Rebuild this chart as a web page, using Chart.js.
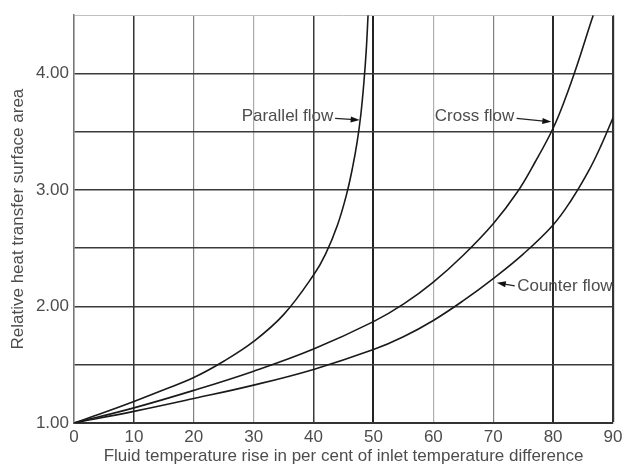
<!DOCTYPE html>
<html>
<head>
<meta charset="utf-8">
<script src="https://cdn.jsdelivr.net/npm/chart.js@4"></script>
<style>
  html, body { margin: 0; padding: 0; background: #fff; }
  #wrap { width: 630px; height: 469px; }
</style>
</head>
<body>
<div id="wrap"><canvas id="heatChart" width="630" height="469"></canvas></div>
<script>
// ================= data =================
const parallelX = [0, 5, 10, 15, 20, 25, 30, 35, 40, 42, 44, 45.5, 46.5, 47.3, 47.9, 48.4, 48.8, 49.1];
const parallelY = [1.00, 1.09, 1.185, 1.285, 1.39, 1.53, 1.70, 1.93, 2.27, 2.45, 2.70, 2.96, 3.19, 3.42, 3.65, 3.92, 4.20, 4.50];

const crossX = [0, 10, 20, 30, 40, 50, 55, 60, 65, 70, 74, 77, 80, 82, 84, 86, 86.7];
const crossY = [1.00, 1.13, 1.28, 1.445, 1.635, 1.87, 2.02, 2.21, 2.44, 2.71, 2.98, 3.24, 3.53, 3.78, 4.07, 4.39, 4.50];

const counterX = [0, 10, 20, 30, 40, 50, 55, 60, 65, 70, 75, 80, 83, 86, 88, 90];
const counterY = [1.00, 1.10, 1.21, 1.325, 1.46, 1.63, 1.74, 1.88, 2.05, 2.24, 2.45, 2.70, 2.91, 3.17, 3.38, 3.62];

const xTicks = [0, 10, 20, 30, 40, 50, 60, 70, 80, 90];
const yLabelled = [1, 2, 3, 4];

const xTitle = "Fluid temperature rise in per cent of inlet temperature difference";
const yTitle = "Relative heat transfer surface area";

// curve labels with arrows (data units)
const notes = [
  { text: "Parallel flow", x: 43.3, y: 3.63, align: "right", from: [43.6, 3.615], to: [47.7, 3.60] },
  { text: "Cross flow", x: 73.5, y: 3.635, align: "right", from: [73.9, 3.615], to: [79.7, 3.585] },
  { text: "Counter flow", x: 74.0, y: 2.17, align: "left", from: [73.6, 2.176], to: [70.6, 2.204] },
];

// ================= helpers =================
const FONT = "'Liberation Sans', Arial, Helvetica, sans-serif";
const TEXT = "#4d4d4d";

function toPoints(xs, ys) {
  return xs.map((x, i) => ({ x: x, y: ys[i] }));
}

// the scanned grid has uneven line weights
const vGridColor = { 10: "#333", 20: "#808080", 30: "#aaa", 40: "#3a3a3a", 50: "#222", 60: "#b0b0b0", 70: "#808080", 80: "#2a2a2a", 90: "#333" };
const vGridWidth = { 10: 1.5, 20: 1.2, 30: 1.2, 40: 1.5, 50: 2, 60: 1.2, 70: 1.2, 80: 2, 90: 2.2 };

// draws the "xxx flow ->" labels
const notesPlugin = {
  id: "notes",
  afterDatasetsDraw(chart) {
    const ctx = chart.ctx;
    const xs = chart.scales.x;
    const ys = chart.scales.y;
    ctx.save();
    ctx.font = "17px " + FONT;
    ctx.textBaseline = "middle";
    notes.forEach((n) => {
      ctx.fillStyle = TEXT;
      ctx.textAlign = n.align;
      ctx.fillText(n.text, xs.getPixelForValue(n.x), ys.getPixelForValue(n.y));
      const x1 = xs.getPixelForValue(n.from[0]);
      const y1 = ys.getPixelForValue(n.from[1]);
      const x2 = xs.getPixelForValue(n.to[0]);
      const y2 = ys.getPixelForValue(n.to[1]);
      const ang = Math.atan2(y2 - y1, x2 - x1);
      ctx.strokeStyle = "#222";
      ctx.lineWidth = 1.3;
      ctx.beginPath();
      ctx.moveTo(x1, y1);
      ctx.lineTo(x2 - 5 * Math.cos(ang), y2 - 5 * Math.sin(ang));
      ctx.stroke();
      // arrow head
      ctx.fillStyle = "#111";
      ctx.beginPath();
      ctx.moveTo(x2, y2);
      ctx.lineTo(x2 - 9 * Math.cos(ang) + 3 * Math.sin(ang), y2 - 9 * Math.sin(ang) - 3 * Math.cos(ang));
      ctx.lineTo(x2 - 9 * Math.cos(ang) - 3 * Math.sin(ang), y2 - 9 * Math.sin(ang) + 3 * Math.cos(ang));
      ctx.closePath();
      ctx.fill();
    });
    ctx.restore();
  },
};

const curveStyle = {
  showLine: true,
  borderColor: "#1a1a1a",
  borderWidth: 1.6,
  pointRadius: 0,
  tension: 0.4,
  fill: false,
};

const config = {
  type: "scatter",
  data: {
    datasets: [
      Object.assign({ label: "Parallel flow", data: toPoints(parallelX, parallelY) }, curveStyle),
      Object.assign({ label: "Cross flow", data: toPoints(crossX, crossY) }, curveStyle),
      Object.assign({ label: "Counter flow", data: toPoints(counterX, counterY) }, curveStyle),
    ],
  },
  options: {
    responsive: false,
    animation: false,
    events: [],
    layout: { padding: { top: 6, right: 17, bottom: 0, left: 8 } },
    plugins: {
      legend: { display: false },
      tooltip: { enabled: false },
    },
    scales: {
      x: {
        type: "linear",
        min: 0,
        max: 90,
        afterBuildTicks: (scale) => {
          scale.ticks = xTicks.map((v) => ({ value: v }));
        },
        afterFit: (scale) => {
          scale.height = 46;
        },
        grid: {
          drawTicks: false,
          color: (c) => vGridColor[c.tick.value] || "#888",
          lineWidth: (c) => vGridWidth[c.tick.value] || 1.2,
        },
        border: { color: "#333", width: 2 },
        ticks: {
          padding: 4,
          color: TEXT,
          font: { family: FONT, size: 17 },
          maxRotation: 0,
        },
        title: {
          display: true,
          text: xTitle,
          color: TEXT,
          font: { family: FONT, size: 17 },
          padding: { top: 0, bottom: 2 },
        },
      },
      y: {
        type: "linear",
        min: 1,
        max: 4.5,
        afterFit: (scale) => {
          scale.width = 66;
        },
        grid: {
          drawTicks: false,
          color: (c) => (c.tick.value >= 4.5 ? "#c0c0c0" : "#3a3a3a"),
          lineWidth: (c) => (c.tick.value >= 4.5 ? 1 : 1.5),
        },
        border: { color: "#777", width: 1.5 },
        ticks: {
          stepSize: 0.5,
          padding: 5,
          color: TEXT,
          font: { family: FONT, size: 17 },
          callback: (v) => (yLabelled.includes(v) ? v.toFixed(2) : ""),
        },
        title: {
          display: true,
          text: yTitle,
          color: TEXT,
          font: { family: FONT, size: 17 },
          padding: { top: 0, bottom: 0 },
        },
      },
    },
  },
  plugins: [notesPlugin],
};

let heatChart = new Chart(document.getElementById("heatChart"), config);
</script>
</body>
</html>
